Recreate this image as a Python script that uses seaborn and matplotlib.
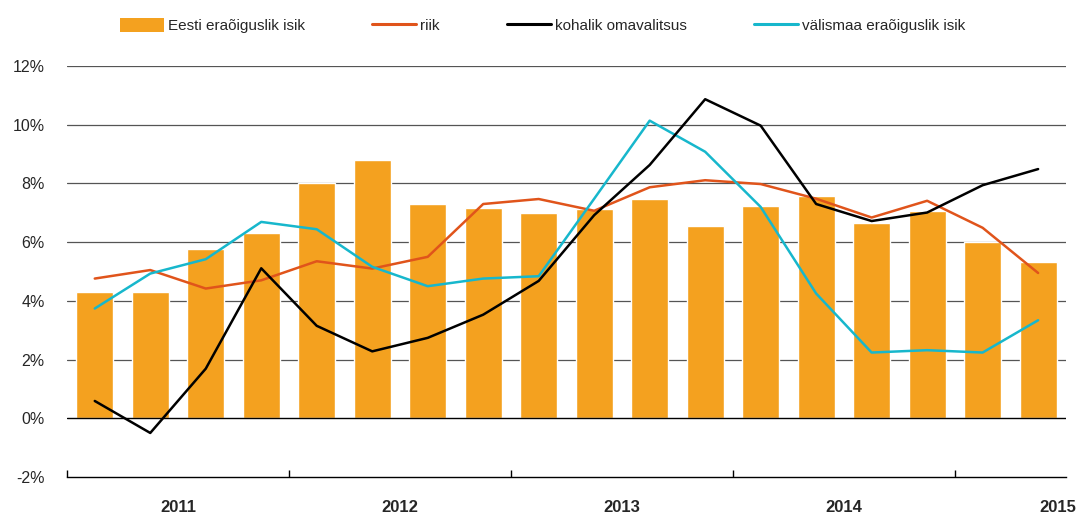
import numpy as np
import pandas as pd
import matplotlib
matplotlib.use("Agg")
import matplotlib.pyplot as plt
import matplotlib.transforms as mtransforms
from matplotlib.patches import Patch
from matplotlib.lines import Line2D
import seaborn as sns

# kvartalid 2011 I - 2015 II
quarters = ["2011 I", "2011 II", "2011 III", "2011 IV",
            "2012 I", "2012 II", "2012 III", "2012 IV",
            "2013 I", "2013 II", "2013 III", "2013 IV",
            "2014 I", "2014 II", "2014 III", "2014 IV",
            "2015 I", "2015 II"]
years = ["2011", "2012", "2013", "2014", "2015"]

eesti = [4.30, 4.30, 5.78, 6.32, 8.00, 8.80, 7.30, 7.18, 7.00,
         7.13, 7.47, 6.55, 7.23, 7.58, 6.66, 7.07, 6.02, 5.33]
riik = [4.76, 5.05, 4.42, 4.70, 5.35, 5.10, 5.50, 7.30, 7.47,
        7.07, 7.87, 8.11, 7.98, 7.48, 6.84, 7.41, 6.49, 4.95]
kohalik = [0.59, -0.50, 1.69, 5.11, 3.15, 2.28, 2.74, 3.53, 4.68,
           6.92, 8.63, 10.87, 9.97, 7.30, 6.72, 7.01, 7.94, 8.49]
valismaa = [3.74, 4.93, 5.42, 6.69, 6.44, 5.16, 4.50, 4.76, 4.84,
            7.48, 10.14, 9.08, 7.20, 4.25, 2.24, 2.32, 2.24, 3.34]

c_bar = "#F4A11F"
c_riik = "#E0541B"
c_kohalik = "#000000"
c_valis = "#17B7CC"

df = pd.DataFrame({"kvartal": quarters, "pos": np.arange(len(quarters)),
                   "eesti": eesti, "riik": riik,
                   "kohalik": kohalik, "valismaa": valismaa})

sns.set_style("white")
plt.rcParams["font.family"] = ["Liberation Sans", "DejaVu Sans"]
plt.rcParams["font.size"] = 11

fig = plt.figure(figsize=(10.81, 5.16), dpi=100)
ax = fig.add_axes([0.062, 0.0756, 0.924, 0.7964])

# gridlines behind the bars
for v in [2, 4, 6, 8, 10, 12]:
    ax.axhline(v, color="#555555", lw=0.9, zorder=0)

sns.barplot(data=df, x="kvartal", y="eesti", order=quarters, color=c_bar,
            width=0.67, saturation=1, ax=ax, zorder=2)
ax.axhline(0, color="black", lw=1.0, zorder=3)

sns.lineplot(data=df, x="pos", y="riik", color=c_riik, lw=1.8, ax=ax, zorder=4)
sns.lineplot(data=df, x="pos", y="kohalik", color=c_kohalik, lw=1.8, ax=ax, zorder=5)
sns.lineplot(data=df, x="pos", y="valismaa", color=c_valis, lw=1.8, ax=ax, zorder=4)

ax.set_xlim(-0.5, len(quarters) - 0.5)
ax.set_ylim(-2, 12)
ax.set_yticks(range(-2, 13, 2))
ax.set_yticklabels([f"{v}%" for v in range(-2, 13, 2)])
ax.tick_params(axis="y", left=False, length=0, pad=16, labelsize=11.5)

ax.set_xticks([-0.5, 3.5, 7.5, 11.5, 15.5])
ax.set_xticklabels([])
ax.tick_params(axis="x", bottom=True, direction="in", length=5, width=1,
               color="black")
ax.set_xlabel("")
ax.set_ylabel("")

for s in ["top", "right", "left"]:
    ax.spines[s].set_visible(False)
ax.spines["bottom"].set_color("black")
ax.spines["bottom"].set_linewidth(1.0)

# year labels under the axis
trans = mtransforms.blended_transform_factory(ax.transData, fig.transFigure)
year_x = [1.5, 5.5, 9.5, 13.5, 17.36]
for x, y in zip(year_x, years):
    ax.text(x, 0.016, y, transform=trans, ha="center", va="center",
            fontsize=12, fontweight="bold")

handles = [Patch(facecolor=c_bar, edgecolor="none"),
           Line2D([], [], color=c_riik, lw=2.2),
           Line2D([], [], color=c_kohalik, lw=2.2),
           Line2D([], [], color=c_valis, lw=2.2)]
labels = ["Eesti eraõiguslik isik", "riik", "kohalik omavalitsus",
          "välismaa eraõiguslik isik"]
fig.legend(handles, labels, loc="center", bbox_to_anchor=(0.502, 0.950),
           ncol=4, frameon=False, fontsize=11, handlelength=2.9,
           handleheight=1.0, handletextpad=0.25, columnspacing=4.4)

fig.savefig("out.png", dpi=100)
